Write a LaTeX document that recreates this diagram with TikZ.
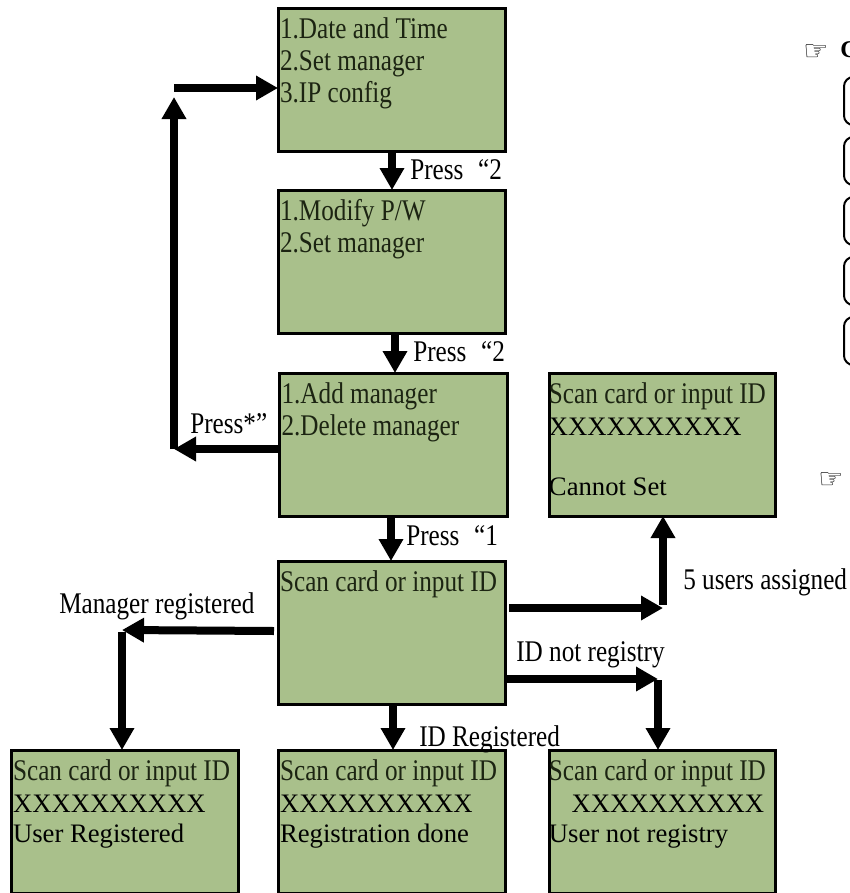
\documentclass[tikz,border=0pt]{standalone}
\usepackage{fontspec}
\usetikzlibrary{arrows.meta}
\setmainfont{Liberation Serif}
\newfontfamily\condf[FakeStretch=0.84]{Liberation Serif}
\newfontfamily\handf{DejaVu Sans Bold}
\definecolor{lcdgreen}{HTML}{A9C08B}
\definecolor{lcdtext}{HTML}{1C2412}
\newcommand{\lcdbody}[1]{\parbox[t][106pt][t]{168.75pt}{\fontsize{22.5}{24}\selectfont\lineskiplimit=-20pt\parindent=0pt\color{lcdtext}\condf #1}}
\newcommand{\lcdline}[1]{\mbox{\hspace{0.8pt}\raisebox{-5.25pt}{#1}\strut}\par}
\newcommand{\wide}[2][0pt]{\raisebox{#1}{\color{black}\fontsize{20}{24}\selectfont\rmfamily #2}}
\tikzset{
  x=0.75pt,y=-0.75pt,
  lcd/.style={draw=black,line width=2.25pt,fill=lcdgreen,inner sep=0pt,outer sep=0pt,anchor=north west,minimum width=227*0.75pt,minimum height=143*0.75pt},
  rightcol/.style={lcd,minimum width=226*0.75pt},
  flow/.style={line width=6pt,draw=black,-{Triangle[length=16.5pt,width=17.5pt]}},
  lbl/.style={font=\fontsize{22.5}{24}\selectfont\condf,inner sep=0pt,anchor=base west},
  hand/.style={font=\fontsize{21}{24}\selectfont\handf,inner sep=0pt},
  cut/.style={draw=black,line width=1.5pt,rounded corners=7pt,fill=white}
}
\begin{document}
\begin{tikzpicture}
\useasboundingbox (0,0) rectangle (850,893);
\clip (0,0) rectangle (850,893);
\node[lcd] (a) at (278,8) {\lcdbody{\lcdline{1.Date and Time}\lcdline{2.Set manager}\lcdline{3.IP config}}};
\node[lcd] (b) at (278,190) {\lcdbody{\lcdline{1.Modify P/W}\lcdline{2.Set manager}}};
\node[lcd,minimum width=228*0.75pt] (c) at (279,373) {\lcdbody{\lcdline{1.Add manager}\lcdline{2.Delete manager}}};
\node[lcd] (d) at (278,561) {\lcdbody{\lcdline{Scan card or input ID}}};
\node[rightcol] (e) at (549,373) {\lcdbody{\hspace*{-1.2pt}\lcdline{Scan card or input ID}\hspace*{-1.2pt}\lcdline{\wide{XXXXXXXXXX}}\lcdline{}\hspace*{-1.2pt}\lcdline{\wide[2.5pt]{Cannot Set}}}};
\node[lcd] (f) at (11,750) {\lcdbody{\lcdline{Scan card or input ID}\lcdline{\wide{XXXXXXXXXX}}\lcdline{\wide[1.5pt]{User Registered}}}};
\node[lcd] (g) at (278,750) {\lcdbody{\lcdline{Scan card or input ID}\lcdline{\wide{XXXXXXXXXX}}\lcdline{\wide[1.5pt]{Registration done}}}};
\node[rightcol] (h) at (549,750) {\lcdbody{\hspace*{-1.2pt}\lcdline{Scan card or input ID}\hspace*{-1.2pt}\lcdline{\hspace{17pt}\wide{XXXXXXXXXX}}\hspace*{-1.2pt}\lcdline{\wide[1pt]{User not registry}}}};
\coordinate (topc) at (174,88);
\coordinate (loopc) at (174,449);
\coordinate (upc) at (663,608);
\coordinate (mgrc) at (122,630);
\coordinate (notc) at (658,679);
\draw[flow] (topc) -- (a.west |- topc);
\draw[flow] (loopc) -- (174,97);
\draw[flow] (c.west |- loopc) -- (loopc);
\draw[flow] (392,152) -- (392,190);
\draw[flow] (395,334) -- (395,373);
\draw[flow] (391,516) -- (391,561);
\draw[flow] (393,705) -- (393,750);
\draw[flow] (509,608) -- (upc);
\draw[flow] (663,605) -- (e.south -| upc);
\draw[flow] (d.west |- mgrc) ++(-4,1) -- (mgrc);
\draw[flow] (122,632) -- (f.north -| mgrc);
\draw[flow] (d.east |- notc) -- (notc);
\draw[flow] (658,680) -- (h.north -| notc);
\node[lbl] (l1) at (410,179) {Press\hspace{11pt}“2};
\node[lbl] (l2) at (413,361) {Press\hspace{11pt}“2};
\node[lbl] (l3) at (406,545) {Press\hspace{11pt}“1};
\node[lbl] (l4) at (190,433) {Press*”};
\node[lbl] (l5) at (59,613) {Manager registered};
\node[lbl] (l6) at (683,589) {5 users assigned};
\node[lbl] (l7) at (516,661) {ID not registry};
\node[lbl] (l8) at (419,746) {ID Registered};
\node[hand] (h1) at (816,53) {☞};
\node[hand] (h2) at (831,481) {☞};
\node[font=\fontsize{18}{20}\selectfont\bfseries\rmfamily,inner sep=0pt,anchor=base west] (cc) at (840,57) {C};
\draw[cut] (844,77) rectangle (900,125);
\draw[cut] (844,137) rectangle (900,185);
\draw[cut] (844,197) rectangle (900,245);
\draw[cut] (844,257) rectangle (900,305);
\draw[cut] (844,317) rectangle (900,365);
\end{tikzpicture}
\end{document}
